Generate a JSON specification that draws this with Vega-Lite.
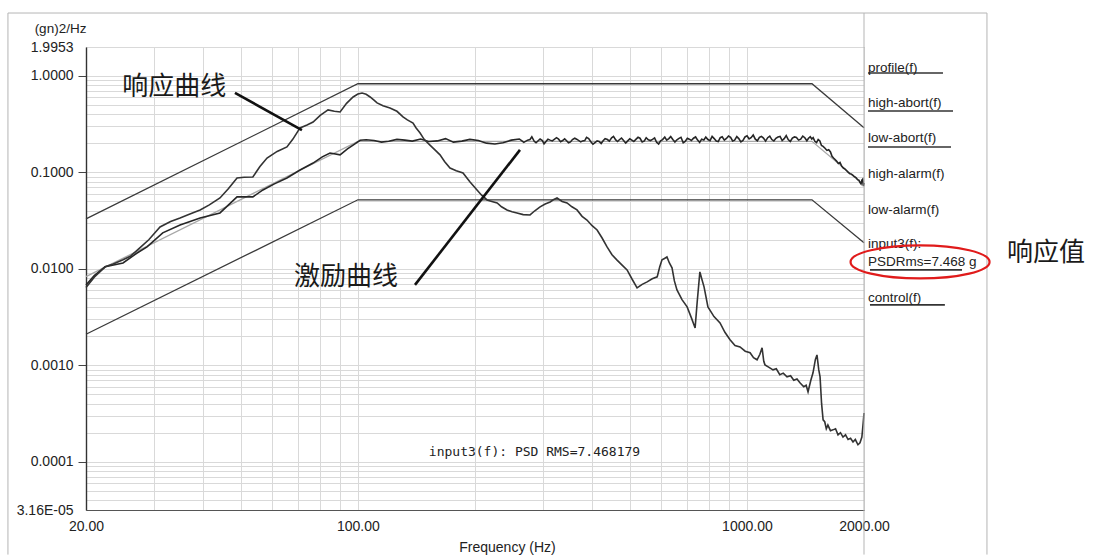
{
  "$schema": "https://vega.github.io/schema/vega-lite/v6.json",
  "width": 778,
  "height": 463,
  "autosize": "none",
  "padding": {"left": 86, "top": 47, "right": 230, "bottom": 47},
  "background": "white",
  "config": {
    "view": {"stroke": "#9a9a9a", "strokeWidth": 1},
    "axis": {"labelFont": "Liberation Sans", "titleFont": "Liberation Sans", "labelColor": "#222", "titleColor": "#222", "titleFontWeight": "normal", "gridColor": "#d9d9d9", "gridWidth": 1, "labelOverlap": false, "labelFlush": false}
  },
  "datasets": {
    "limits": [
      {"s": "high", "f": 20, "v": 0.033}, {"s": "high", "f": 100, "v": 0.83}, {"s": "high", "f": 1470, "v": 0.83}, {"s": "high", "f": 2000, "v": 0.29},
      {"s": "low", "f": 20, "v": 0.0021}, {"s": "low", "f": 100, "v": 0.052}, {"s": "low", "f": 1470, "v": 0.052}, {"s": "low", "f": 2000, "v": 0.0186},
      {"s": "profile", "f": 20, "v": 0.0083}, {"s": "profile", "f": 100, "v": 0.21}, {"s": "profile", "f": 1470, "v": 0.21}, {"s": "profile", "f": 2000, "v": 0.074}
    ],
    "control": [
      {"f":20,"v":0.0068},{"f":21,"v":0.0085},{"f":22.4,"v":0.0105},{"f":24.9,"v":0.0115},{"f":27,"v":0.0145},{"f":28.7,"v":0.0169},{"f":31.5,"v":0.0236},{"f":34.9,"v":0.0285},{"f":39.3,"v":0.0337},{"f":44.2,"v":0.038},{"f":46.5,"v":0.046},{"f":48.9,"v":0.0557},{"f":53.7,"v":0.0557},{"f":57,"v":0.0658},{"f":61,"v":0.076},{"f":65.7,"v":0.0876},{"f":71,"v":0.106},{"f":76.7,"v":0.125},{"f":81,"v":0.145},{"f":84.8,"v":0.159},{"f":90,"v":0.152},{"f":94,"v":0.175},{"f":97.2,"v":0.192},{"f":101.3,"v":0.215},
      {"f":105,"v":0.218},{"f":110,"v":0.214},{"f":115,"v":0.206},{"f":120,"v":0.21},{"f":126,"v":0.22},{"f":132,"v":0.216},{"f":138,"v":0.211},{"f":145,"v":0.222},{"f":152,"v":0.209},{"f":160,"v":0.212},{"f":168,"v":0.224},{"f":176,"v":0.206},{"f":185,"v":0.211},{"f":194,"v":0.22},{"f":204,"v":0.214},{"f":214,"v":0.201},{"f":225,"v":0.197},{"f":236,"v":0.203},{"f":248,"v":0.216},{"f":260,"v":0.222},{"f":264,"v":0.212},{"f":267,"v":0.205},{"f":273,"v":0.216},{"f":277,"v":0.219},{"f":280,"v":0.234},{"f":284,"v":0.21},{"f":287,"v":0.203},{"f":294,"v":0.222},{"f":298,"v":0.214},{"f":301,"v":0.198},{"f":308,"v":0.221},{"f":312,"v":0.216},{"f":316,"v":0.212},{"f":324,"v":0.229},{"f":328,"v":0.221},{"f":332,"v":0.208},{"f":336,"v":0.214},{"f":340,"v":0.223},{"f":348,"v":0.203},{"f":352,"v":0.207},{"f":356,"v":0.219},{"f":361,"v":0.226},{"f":365,"v":0.221},{"f":374,"v":0.207},{"f":378,"v":0.212},{"f":383,"v":0.214},{"f":387,"v":0.231},{"f":392,"v":0.224},{"f":397,"v":0.208},{"f":402,"v":0.196},{"f":407,"v":0.204},{"f":412,"v":0.212},{"f":417,"v":0.209},{"f":422,"v":0.199},{"f":427,"v":0.213},{"f":432,"v":0.224},{"f":438,"v":0.219},{"f":443,"v":0.211},{"f":449,"v":0.228},{"f":454,"v":0.236},{"f":460,"v":0.217},{"f":465,"v":0.209},{"f":470,"v":0.218},{"f":476,"v":0.227},{"f":482,"v":0.214},{"f":488,"v":0.201},{"f":494,"v":0.212},
      {"f":500,"v":0.223},{"f":506,"v":0.216},{"f":512,"v":0.209},{"f":519,"v":0.221},{"f":525,"v":0.231},{"f":531,"v":0.226},{"f":538,"v":0.207},{"f":545,"v":0.212},{"f":551,"v":0.229},{"f":558,"v":0.218},{"f":565,"v":0.214},{"f":572,"v":0.22},{"f":579,"v":0.228},{"f":586,"v":0.205},{"f":593,"v":0.197},{"f":600,"v":0.212},{"f":607,"v":0.219},{"f":615,"v":0.232},{"f":622,"v":0.216},{"f":630,"v":0.224},{"f":637,"v":0.235},{"f":645,"v":0.219},{"f":653,"v":0.206},{"f":661,"v":0.218},{"f":669,"v":0.225},{"f":677,"v":0.231},{"f":686,"v":0.203},{"f":694,"v":0.209},{"f":703,"v":0.226},{"f":711,"v":0.221},{"f":720,"v":0.214},{"f":729,"v":0.226},{"f":738,"v":0.233},{"f":747,"v":0.216},{"f":756,"v":0.205},{"f":765,"v":0.221},{"f":775,"v":0.217},{"f":784,"v":0.232},{"f":794,"v":0.219},{"f":804,"v":0.213},{"f":814,"v":0.236},{"f":824,"v":0.224},{"f":834,"v":0.211},{"f":844,"v":0.209},{"f":854,"v":0.229},{"f":864,"v":0.234},{"f":875,"v":0.216},{"f":886,"v":0.225},{"f":897,"v":0.238},{"f":908,"v":0.231},{"f":919,"v":0.212},{"f":930,"v":0.216},{"f":942,"v":0.235},{"f":953,"v":0.224},{"f":965,"v":0.207},{"f":977,"v":0.214},{"f":989,"v":0.233},{"f":1001,"v":0.239},{"f":1013,"v":0.222},{"f":1025,"v":0.229},{"f":1038,"v":0.244},{"f":1051,"v":0.221},{"f":1064,"v":0.213},{"f":1077,"v":0.231},{"f":1090,"v":0.236},{"f":1103,"v":0.227},{"f":1117,"v":0.211},{"f":1131,"v":0.229},{"f":1145,"v":0.238},{"f":1159,"v":0.219},{"f":1173,"v":0.212},{"f":1187,"v":0.226},{"f":1202,"v":0.233},{"f":1217,"v":0.236},{"f":1232,"v":0.214},{"f":1247,"v":0.224},{"f":1262,"v":0.241},{"f":1277,"v":0.219},{"f":1293,"v":0.209},{"f":1309,"v":0.227},{"f":1325,"v":0.233},{"f":1341,"v":0.23},{"f":1358,"v":0.216},{"f":1375,"v":0.221},{"f":1392,"v":0.238},{"f":1409,"v":0.229},{"f":1426,"v":0.213},{"f":1440,"v":0.226},{"f":1455,"v":0.234},{"f":1468,"v":0.222},{"f":1480,"v":0.229},
      {"f":1495,"v":0.21},{"f":1510,"v":0.204},{"f":1525,"v":0.219},{"f":1540,"v":0.212},{"f":1555,"v":0.19},{"f":1570,"v":0.186},{"f":1588,"v":0.178},{"f":1606,"v":0.169},{"f":1623,"v":0.172},{"f":1640,"v":0.163},{"f":1655,"v":0.147},{"f":1670,"v":0.141},{"f":1685,"v":0.136},{"f":1700,"v":0.131},{"f":1718,"v":0.124},{"f":1735,"v":0.127},{"f":1752,"v":0.116},{"f":1770,"v":0.111},{"f":1788,"v":0.108},{"f":1805,"v":0.104},{"f":1822,"v":0.1},{"f":1840,"v":0.097},{"f":1857,"v":0.096},{"f":1874,"v":0.093},{"f":1892,"v":0.09},{"f":1910,"v":0.088},{"f":1925,"v":0.084},{"f":1940,"v":0.083},{"f":1952,"v":0.079},{"f":1965,"v":0.076},{"f":1975,"v":0.083},{"f":1985,"v":0.085},{"f":1993,"v":0.072},{"f":2000,"v":0.078}
    ],
    "response": [
      {"f":20,"v":0.0064},{"f":21,"v":0.0082},{"f":22.4,"v":0.0105},{"f":23.5,"v":0.0112},{"f":24.9,"v":0.0124},{"f":26,"v":0.0135},{"f":27.5,"v":0.0165},{"f":29,"v":0.02},{"f":31,"v":0.0272},{"f":33,"v":0.031},{"f":34.9,"v":0.0337},{"f":37,"v":0.037},{"f":39.3,"v":0.0408},{"f":41.5,"v":0.046},{"f":44.2,"v":0.0543},{"f":46.5,"v":0.068},{"f":48.9,"v":0.0876},{"f":51,"v":0.089},{"f":53.7,"v":0.0897},{"f":56,"v":0.115},{"f":58.4,"v":0.141},{"f":62,"v":0.165},{"f":65.7,"v":0.1835},{"f":68,"v":0.22},{"f":71,"v":0.289},{"f":74,"v":0.31},{"f":76.7,"v":0.333},{"f":80,"v":0.39},{"f":83.8,"v":0.444},{"f":87,"v":0.43},{"f":90,"v":0.423},{"f":93.5,"v":0.52},{"f":97.2,"v":0.605},{"f":100,"v":0.65},{"f":102.5,"v":0.666},{"f":105,"v":0.645},{"f":107.5,"v":0.605},{"f":110,"v":0.56},{"f":112,"v":0.525},{"f":116,"v":0.49},{"f":120.9,"v":0.466},{"f":126,"v":0.43},{"f":130.6,"v":0.376},{"f":134,"v":0.35},{"f":138.6,"v":0.325},{"f":141,"v":0.29},{"f":144.5,"v":0.256},{"f":148,"v":0.22},{"f":153.2,"v":0.192},{"f":158,"v":0.17},{"f":162.6,"v":0.152},{"f":167,"v":0.13},{"f":172.5,"v":0.111},{"f":179,"v":0.104},{"f":186.3,"v":0.0987},{"f":194,"v":0.08},{"f":202.4,"v":0.0658},{"f":208,"v":0.058},{"f":214.8,"v":0.0518},{"f":221,"v":0.05},{"f":228,"v":0.0482},{"f":234,"v":0.044},{"f":241.7,"v":0.0408},{"f":249,"v":0.039},{"f":256.4,"v":0.038},{"f":266,"v":0.0365},{"f":277,"v":0.0362},{"f":285,"v":0.04},{"f":294,"v":0.0439},{"f":303,"v":0.047},{"f":312,"v":0.0494},{"f":318,"v":0.052},{"f":325,"v":0.0543},{"f":335,"v":0.05},{"f":344.8,"v":0.0482},{"f":355,"v":0.044},{"f":365.8,"v":0.0408},{"f":377,"v":0.035},{"f":388,"v":0.0321},{"f":400,"v":0.028},{"f":412,"v":0.0253},{"f":424,"v":0.021},{"f":437,"v":0.01687},{"f":450,"v":0.014},{"f":463,"v":0.0124},{"f":477,"v":0.011},{"f":492,"v":0.00975},{"f":507,"v":0.0078},{"f":522,"v":0.00635},{"f":538,"v":0.0069},{"f":554,"v":0.00733},{"f":571,"v":0.0079},{"f":588,"v":0.00826},{"f":597,"v":0.0105},{"f":605,"v":0.0124},{"f":614,"v":0.0128},{"f":623,"v":0.0133},{"f":632,"v":0.0115},{"f":642,"v":0.01023},{"f":651,"v":0.0075},{"f":661,"v":0.00605},{"f":681,"v":0.0048},{"f":702,"v":0.00403},{"f":720,"v":0.0031},{"f":736,"v":0.00244},{"f":745,"v":0.0045},{"f":757,"v":0.0093},{"f":766,"v":0.0078},{"f":776,"v":0.0065},{"f":794,"v":0.00403},{"f":823,"v":0.0032},{"f":853,"v":0.00275},{"f":878,"v":0.0022},{"f":905,"v":0.00184},{"f":932,"v":0.0016},{"f":960,"v":0.00155},{"f":990,"v":0.0014},{"f":1019,"v":0.00135},{"f":1040,"v":0.0012},{"f":1062,"v":0.00114},{"f":1080,"v":0.0013},{"f":1094,"v":0.00152},{"f":1105,"v":0.0011},{"f":1113,"v":0.00101},{"f":1140,"v":0.00095},{"f":1167,"v":0.000897},{"f":1190,"v":0.00092},{"f":1215,"v":0.0008},{"f":1240,"v":0.00083},{"f":1268,"v":0.000759},{"f":1295,"v":0.00078},{"f":1320,"v":0.0007},{"f":1345,"v":0.00072},{"f":1369,"v":0.000658},{"f":1400,"v":0.0006},{"f":1420,"v":0.00062},{"f":1436,"v":0.000531},{"f":1460,"v":0.0007},{"f":1479,"v":0.000835},{"f":1500,"v":0.00115},{"f":1514,"v":0.00128},{"f":1530,"v":0.0009},{"f":1542,"v":0.000759},{"f":1556,"v":0.0004},{"f":1570,"v":0.000272},{"f":1585,"v":0.00026},{"f":1600,"v":0.00022},{"f":1615,"v":0.00024},{"f":1640,"v":0.00021},{"f":1664,"v":0.000214},{"f":1690,"v":0.00022},{"f":1715,"v":0.00019},{"f":1740,"v":0.0002},{"f":1766,"v":0.00018},{"f":1793,"v":0.00019},{"f":1820,"v":0.00017},{"f":1847,"v":0.000175},{"f":1874,"v":0.00016},{"f":1900,"v":0.00017},{"f":1930,"v":0.00015},{"f":1953,"v":0.000157},{"f":1975,"v":0.00018},{"f":1990,"v":0.00025},{"f":2000,"v":0.00032}
    ],
    "arrows": [
      {"f": 48.3, "v": 0.666, "f2": 71.8, "v2": 0.275},
      {"f": 140.2, "v": 0.00682, "f2": 261, "v2": 0.171}
    ],
    "underlines": [
      {"f": 2048, "f2": 3192, "v": 1.073, "v2": 1.073},
      {"f": 2048, "f2": 3387, "v": 0.4335, "v2": 0.4335},
      {"f": 2048, "f2": 3348, "v": 0.1835, "v2": 0.1835},
      {"f": 2072, "f2": 3573, "v": 0.00975, "v2": 0.00975},
      {"f": 2072, "f2": 3228, "v": 0.00423, "v2": 0.00423}
    ],
    "frame": [
      {"f": 2000, "f2": 2000, "v": 4.49, "v2": 0.0000109},
      {"f": 4141, "f2": 4141, "v": 4.49, "v2": 0.0000109},
      {"f": 12.6, "f2": 4141, "v": 4.49, "v2": 4.49},
      {"f": 12.6, "f2": 12.6, "v": 4.49, "v2": 0.0000109}
    ],
    "notes": [
      {"t": "响应曲线", "f": 33.7, "v": 0.768},
      {"t": "激励曲线", "f": 93.2, "v": 0.00826},
      {"t": "响应值", "f": 5876, "v": 0.01463}
    ],
    "rms": [
      {"t": "input3(f): PSD RMS=7.468179", "f": 284.4, "v": 0.0001268}
    ],
    "labels": [
      {"t": "profile(f)", "f": 2048, "v": 1.209},
      {"t": "high-abort(f)", "f": 2048, "v": 0.525},
      {"t": "low-abort(f)", "f": 2048, "v": 0.2275},
      {"t": "high-alarm(f)", "f": 2048, "v": 0.0964},
      {"t": "low-alarm(f)", "f": 2048, "v": 0.0408},
      {"t": "input3(f):", "f": 2048, "v": 0.01815},
      {"t": "PSDRms=7.468 g", "f": 2048, "v": 0.0118},
      {"t": "control(f)", "f": 2048, "v": 0.005}
    ],
    "ellipse": [
      {"f": 2787, "v": 0.0118}
    ]
  },
  "encoding": {
    "x": {
      "field": "f", "type": "quantitative",
      "scale": {"type": "log", "domain": [20, 2000], "nice": false},
      "axis": {
        "values": [20,30,40,50,60,70,80,90,100,200,300,400,500,600,700,800,900,1000,2000],
        "labelExpr": "indexof([20,100,1000,2000], datum.value) >= 0 ? format(datum.value, '.2f') : ''",
        "ticks": false, "labelPadding": 9, "labelFontSize": 14,
        "domainColor": "#555", "domainWidth": 1.2,
        "title": "Frequency (Hz)", "titleFontSize": 14, "titleX": 421, "titleY": 37, "titleBaseline": "middle", "titleAlign": "center"
      }
    },
    "y": {
      "field": "v", "type": "quantitative",
      "scale": {"type": "log", "domain": [0.0000316, 1.9953], "nice": false},
      "axis": {
        "values": [0.0000316,0.00004,0.00005,0.00006,0.00007,0.00008,0.00009,0.0001,0.0002,0.0003,0.0004,0.0005,0.0006,0.0007,0.0008,0.0009,0.001,0.002,0.003,0.004,0.005,0.006,0.007,0.008,0.009,0.01,0.02,0.03,0.04,0.05,0.06,0.07,0.08,0.09,0.1,0.2,0.3,0.4,0.5,0.6,0.7,0.8,0.9,1,1.9953],
        "labelExpr": "datum.value > 1.5 ? '1.9953' : (datum.value < 0.000035 ? '3.16E-05' : (abs(log(datum.value)/LN10 - round(log(datum.value)/LN10)) < 0.001 ? format(datum.value, '.4f') : ''))",
        "tickSize": 8, "tickColor": "#444",
        "tickOpacity": {"condition": {"test": "abs(log(datum.value)/LN10 - round(log(datum.value)/LN10)) < 0.001", "value": 1}, "value": 0},
        "labelPadding": 5, "labelFontSize": 14,
        "domainColor": "#333", "domainWidth": 1.4,
        "title": "(gn)2/Hz", "titleFontSize": 13.5, "titleAngle": 0, "titleAlign": "center", "titleBaseline": "middle", "titleX": -26, "titleY": -19
      }
    }
  },
  "layer": [
    {
      "data": {"name": "limits"},
      "mark": {"type": "line", "strokeWidth": 1.3},
      "encoding": {
        "detail": {"field": "s"},
        "color": {"field": "s", "type": "nominal", "scale": {"domain": ["high", "low", "profile"], "range": ["#3a3a3a", "#3a3a3a", "#a8a8a8"]}, "legend": null}
      }
    },
    {
      "data": {"name": "control"},
      "mark": {"type": "line", "strokeWidth": 1.6, "color": "#262626"},
      "encoding": {}
    },
    {
      "data": {"name": "response"},
      "mark": {"type": "line", "strokeWidth": 1.6, "color": "#333333"},
      "encoding": {}
    },
    {
      "data": {"name": "frame"},
      "mark": {"type": "rule", "color": "#b5b5b5", "strokeWidth": 1},
      "encoding": {"x2": {"field": "f2"}, "y2": {"field": "v2"}}
    },
    {
      "data": {"name": "arrows"},
      "mark": {"type": "rule", "color": "#111", "strokeWidth": 2.6},
      "encoding": {"x2": {"field": "f2"}, "y2": {"field": "v2"}}
    },
    {
      "data": {"name": "underlines"},
      "mark": {"type": "rule", "color": "#333", "strokeWidth": 1.6},
      "encoding": {"x2": {"field": "f2"}, "y2": {"field": "v2"}}
    },
    {
      "data": {"name": "notes"},
      "mark": {"type": "text", "font": "Noto Sans CJK SC", "fontSize": 26, "color": "#1a1a1a", "align": "center", "baseline": "middle"},
      "encoding": {"text": {"field": "t"}}
    },
    {
      "data": {"name": "rms"},
      "mark": {"type": "text", "font": "DejaVu Sans Mono", "fontSize": 13, "color": "#222", "align": "center", "baseline": "middle"},
      "encoding": {"text": {"field": "t"}}
    },
    {
      "data": {"name": "labels"},
      "mark": {"type": "text", "font": "Liberation Sans", "fontSize": 13.5, "color": "#222", "align": "left", "baseline": "middle"},
      "encoding": {"text": {"field": "t"}}
    },
    {
      "data": {"name": "ellipse"},
      "mark": {"type": "point", "filled": false, "stroke": "#e01b1b", "strokeWidth": 2.2, "opacity": 1, "size": 19321,
        "shape": "M -1 0 C -1 -0.1309 -0.5523 -0.237 0 -0.237 C 0.5523 -0.237 1 -0.1309 1 0 C 1 0.1309 0.5523 0.237 0 0.237 C -0.5523 0.237 -1 0.1309 -1 0 Z"},
      "encoding": {}
    }
  ]
}
